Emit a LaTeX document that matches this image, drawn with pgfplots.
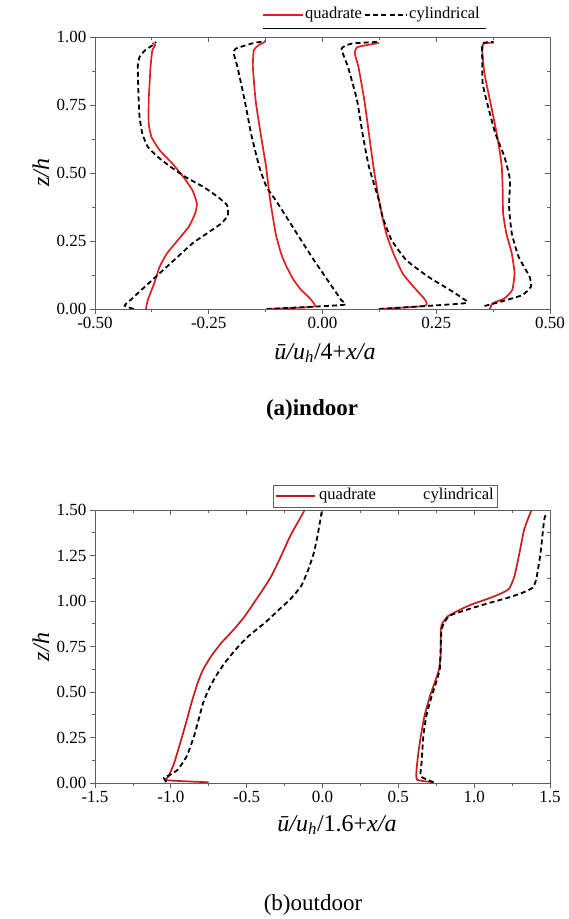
\documentclass[border=0pt]{standalone}
\usepackage{fontspec}
\setmainfont{Liberation Serif}
\usepackage{pgfplots}
\pgfplotsset{compat=1.18}
\definecolor{qred}{RGB}{222,32,32}
\definecolor{axgray}{RGB}{95,95,95}
\begin{document}
\begin{tikzpicture}
\path[use as bounding box] (0pt,0pt) rectangle (569pt,919pt);
\pgfplotsset{
  base/.style={scale only axis, clip=false,
    axis line style={axgray, line width=0.9pt},
    major tick length=5pt, minor tick length=3pt,
    every tick/.style={axgray, line width=0.8pt},
    ticklabel style={font=\fontsize{17}{17}\selectfont},
    /pgf/number format/assume math mode=true},
  quad/.style={qred, line width=1.7pt, smooth, tension=0.3},
  cyl/.style={black, line width=1.8pt, dash pattern=on 5pt off 3.2pt, smooth, tension=0.3},
}
% ---------------- top (indoor) ----------------
\begin{axis}[base, at={(95pt,610pt)}, anchor=south west, width=455pt, height=272pt,
  xmin=-0.5, xmax=0.5, ymin=0, ymax=1,
  xtick={-0.5,-0.25,0,0.25,0.5}, ytick={0,0.25,0.5,0.75,1},
  minor x tick num=1, minor y tick num=1,
  xtick pos=left, ytick pos=left, tick align=outside,
  xticklabel style={/pgf/number format/.cd, fixed, fixed zerofill, precision=2},
  yticklabel style={/pgf/number format/.cd, fixed, fixed zerofill, precision=2}]
\addplot[quad] coordinates {(-0.388,0.0)(-0.384,0.033)(-0.370,0.094)(-0.358,0.155)(-0.342,0.204)(-0.318,0.253)(-0.294,0.302)(-0.280,0.351)(-0.276,0.388)(-0.286,0.437)(-0.306,0.486)(-0.330,0.535)(-0.358,0.584)(-0.376,0.633)(-0.382,0.682)(-0.382,0.768)(-0.380,0.829)(-0.378,0.890)(-0.374,0.951)(-0.368,0.969)(-0.374,0.978)};
\addplot[cyl] coordinates {(-0.415,0.0)(-0.435,0.012)(-0.422,0.033)(-0.398,0.070)(-0.366,0.119)(-0.326,0.180)(-0.286,0.241)(-0.254,0.278)(-0.222,0.315)(-0.208,0.345)(-0.210,0.382)(-0.230,0.412)(-0.262,0.449)(-0.302,0.486)(-0.334,0.523)(-0.362,0.559)(-0.384,0.596)(-0.396,0.645)(-0.402,0.706)(-0.404,0.767)(-0.406,0.890)(-0.402,0.927)(-0.390,0.951)(-0.374,0.969)(-0.366,0.982)};
\addplot[quad] coordinates {(-0.123,0.0)(-0.020,0.008)(-0.022,0.027)(-0.031,0.045)(-0.047,0.070)(-0.063,0.106)(-0.079,0.155)(-0.091,0.204)(-0.103,0.278)(-0.115,0.400)(-0.124,0.523)(-0.136,0.645)(-0.147,0.767)(-0.153,0.890)(-0.151,0.951)(-0.141,0.969)(-0.127,0.982)};
\addplot[cyl] coordinates {(-0.123,0.0)(0.045,0.015)(0.041,0.033)(0.021,0.082)(0.001,0.131)(-0.019,0.180)(-0.047,0.253)(-0.075,0.327)(-0.103,0.400)(-0.123,0.449)(-0.139,0.523)(-0.157,0.645)(-0.171,0.767)(-0.187,0.890)(-0.195,0.939)(-0.191,0.957)(-0.151,0.978)(-0.125,0.985)};
\addplot[quad] coordinates {(0.124,0.0)(0.223,0.011)(0.228,0.027)(0.220,0.045)(0.200,0.082)(0.176,0.131)(0.156,0.204)(0.140,0.278)(0.124,0.400)(0.112,0.523)(0.102,0.645)(0.092,0.767)(0.079,0.890)(0.071,0.939)(0.077,0.963)(0.124,0.978)};
\addplot[cyl] coordinates {(0.124,0.0)(0.312,0.021)(0.308,0.039)(0.280,0.070)(0.232,0.119)(0.184,0.180)(0.152,0.253)(0.132,0.339)(0.124,0.400)(0.102,0.523)(0.088,0.645)(0.076,0.767)(0.056,0.890)(0.042,0.957)(0.065,0.976)(0.124,0.982)};
\addplot[quad] coordinates {(0.368,0.0)(0.374,0.021)(0.400,0.039)(0.417,0.070)(0.422,0.131)(0.416,0.204)(0.404,0.278)(0.397,0.351)(0.396,0.437)(0.394,0.523)(0.388,0.596)(0.380,0.670)(0.368,0.767)(0.356,0.865)(0.351,0.951)(0.354,0.976)(0.376,0.979)};
\addplot[cyl] coordinates {(0.356,0.011)(0.392,0.027)(0.439,0.051)(0.458,0.082)(0.455,0.119)(0.431,0.192)(0.416,0.278)(0.410,0.376)(0.412,0.474)(0.400,0.559)(0.380,0.645)(0.364,0.743)(0.352,0.829)(0.351,0.914)(0.352,0.976)(0.376,0.982)};
\end{axis}
\begin{axis}[base, at={(95pt,610pt)}, anchor=south west, width=455pt, height=272pt,
  xmin=-0.5, xmax=0.5, ymin=0, ymax=1,
  xtick={-0.5,-0.25,0,0.25,0.5}, ytick={0,0.25,0.5,0.75,1},
  minor x tick num=1, minor y tick num=1,
  xtick pos=right, ytick pos=right, tick align=inside,
  xticklabels={}, yticklabels={}]
\end{axis}
% ---------------- bottom (outdoor) ----------------
\begin{axis}[base, at={(95pt,136pt)}, anchor=south west, width=455pt, height=273pt,
  xmin=-1.5, xmax=1.5, ymin=0, ymax=1.5,
  xtick={-1.5,-1,-0.5,0,0.5,1,1.5}, ytick={0,0.25,0.5,0.75,1,1.25,1.5},
  minor x tick num=1, minor y tick num=1,
  xtick pos=left, ytick pos=left, tick align=outside,
  xticklabel style={/pgf/number format/.cd, fixed, fixed zerofill, precision=1},
  yticklabel style={/pgf/number format/.cd, fixed, fixed zerofill, precision=2}]
\addplot[quad, qred!90!black] coordinates {(-0.751,0.004)(-1.026,0.015)(-1.014,0.037)(-0.978,0.110)(-0.938,0.220)(-0.900,0.330)(-0.864,0.440)(-0.823,0.550)(-0.787,0.624)(-0.734,0.697)(-0.667,0.770)(-0.584,0.844)(-0.512,0.917)(-0.452,0.990)(-0.392,1.064)(-0.337,1.137)(-0.273,1.247)(-0.213,1.357)(-0.117,1.500)};
\addplot[cyl] coordinates {(-1.030,0.005)(-1.045,0.028)(-1.002,0.046)(-0.955,0.073)(-0.895,0.147)(-0.847,0.257)(-0.823,0.330)(-0.787,0.440)(-0.751,0.513)(-0.703,0.587)(-0.644,0.660)(-0.572,0.734)(-0.488,0.807)(-0.380,0.880)(-0.285,0.954)(-0.213,1.009)(-0.141,1.082)(-0.093,1.174)(-0.057,1.265)(-0.033,1.357)(-0.010,1.467)(-0.005,1.495)};
\addplot[quad, qred!90!black] coordinates {(0.732,0.004)(0.624,0.018)(0.620,0.073)(0.632,0.165)(0.648,0.257)(0.672,0.367)(0.708,0.477)(0.739,0.550)(0.768,0.624)(0.780,0.715)(0.780,0.844)(0.792,0.880)(0.828,0.917)(0.911,0.954)(0.983,0.981)(1.079,1.009)(1.163,1.036)(1.230,1.067)(1.266,1.137)(1.299,1.265)(1.330,1.394)(1.378,1.500)};
\addplot[cyl] coordinates {(0.732,0.004)(0.648,0.037)(0.653,0.110)(0.665,0.257)(0.684,0.367)(0.720,0.477)(0.773,0.624)(0.785,0.844)(0.835,0.917)(0.959,0.954)(1.103,0.990)(1.223,1.018)(1.318,1.045)(1.385,1.073)(1.409,1.119)(1.438,1.265)(1.462,1.449)(1.481,1.485)};
\end{axis}
\begin{axis}[base, at={(95pt,136pt)}, anchor=south west, width=455pt, height=273pt,
  xmin=-1.5, xmax=1.5, ymin=0, ymax=1.5,
  xtick={-1.5,-1,-0.5,0,0.5,1,1.5}, ytick={0,0.25,0.5,0.75,1,1.25,1.5},
  minor x tick num=1, minor y tick num=1,
  xtick pos=right, ytick pos=right, tick align=inside,
  xticklabels={}, yticklabels={}]
\end{axis}
% ---------------- labels ----------------
\node[rotate=90, font=\fontsize{24}{24}\selectfont\itshape] at (41pt,746pt) {z/h};
\node[rotate=90, font=\fontsize{24}{24}\selectfont\itshape] at (41pt,272pt) {z/h};
\node[font=\fontsize{24}{24}\selectfont] at (325pt,566pt) {{\itshape \=u/u\textsubscript{h}}/4+{\itshape x/a}};
\node[font=\fontsize{24}{24}\selectfont] at (337pt,94pt) {{\itshape \=u/u\textsubscript{h}}/1.6+{\itshape x/a}};
\node[font=\bfseries\fontsize{23}{23}\selectfont] at (312pt,509pt) {(a)indoor};
\node[font=\fontsize{23}{23}\selectfont] at (313pt,14pt) {(b)outdoor};
% ---------------- legends ----------------
\draw[qred, line width=1.7pt] (263pt,904pt) -- (303pt,904pt);
\node[anchor=west, inner sep=0pt, font=\fontsize{16.5}{16.5}\selectfont] at (305pt,904pt) {quadrate};
\draw[black, line width=1.8pt, dash pattern=on 5pt off 3.2pt] (365pt,904pt) -- (407pt,904pt);
\node[anchor=west, inner sep=0pt, font=\fontsize{16.5}{16.5}\selectfont] at (409pt,904pt) {cylindrical};
\draw[black, line width=0.8pt] (263pt,891pt) -- (486pt,891pt);
\draw[axgray, line width=0.8pt] (273pt,412pt) rectangle (497pt,434pt);
\draw[qred!85!black, line width=1.7pt] (276pt,423pt) -- (315pt,423pt);
\node[anchor=west, inner sep=0pt, font=\fontsize{16.5}{16.5}\selectfont] at (319pt,423pt) {quadrate};
\node[anchor=west, inner sep=0pt, font=\fontsize{16.5}{16.5}\selectfont] at (423pt,423pt) {cylindrical};
\end{tikzpicture}
\end{document}
